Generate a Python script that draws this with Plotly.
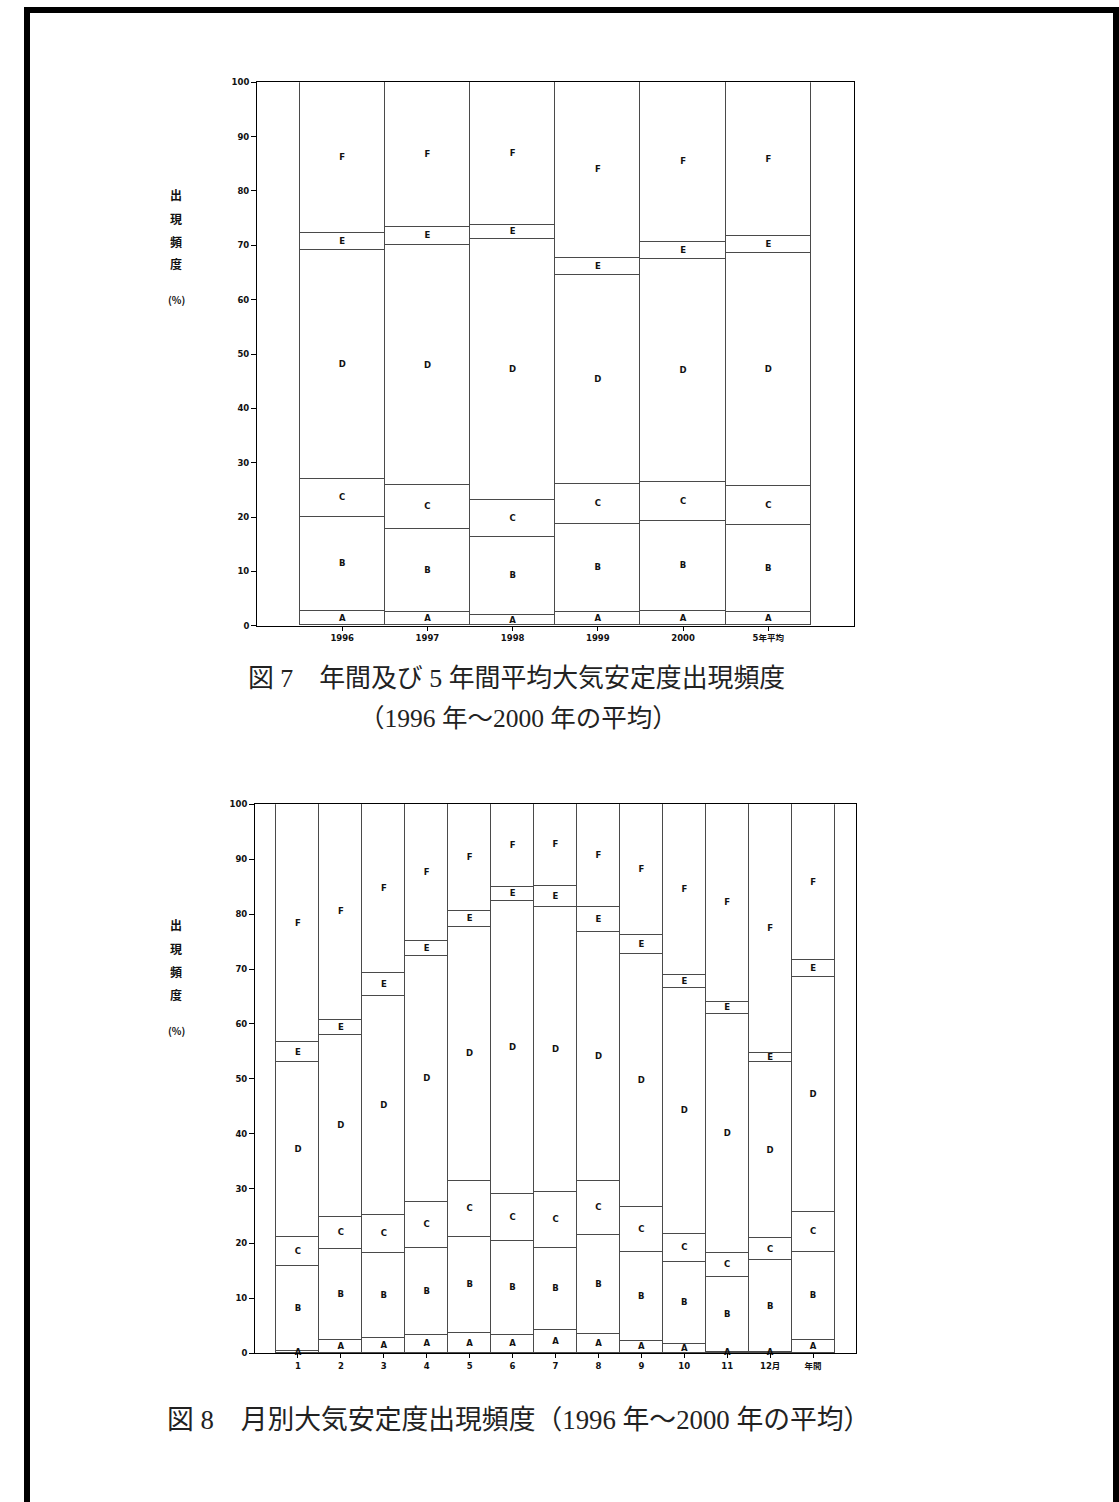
import plotly.graph_objects as go

W, H = 1119, 1502

classes = ["A", "B", "C", "D", "E", "F"]

# 図7: 年別および5年平均の安定度別出現頻度 (%)
years = ["1996", "1997", "1998", "1999", "2000", "5年平均"]
year_A = [2.6, 2.4, 1.9, 2.4, 2.6, 2.4]
year_B = [17.4, 15.4, 14.4, 16.3, 16.7, 16.1]
year_C = [7.0, 8.0, 6.8, 7.4, 7.0, 7.1]
year_D = [42.1, 44.2, 48.1, 38.4, 41.2, 42.9]
year_E = [3.2, 3.4, 2.5, 3.2, 3.1, 3.1]
year_F = [27.7, 26.6, 26.3, 32.3, 29.4, 28.4]

# 図8: 月別の安定度別出現頻度 (%)
months = ["1", "2", "3", "4", "5", "6", "7", "8", "9", "10", "11", "12月", "年間"]
month_A = [0.3, 2.3, 2.8, 3.3, 3.6, 3.3, 4.2, 3.5, 2.2, 1.6, 0.2, 0.1, 2.4]
month_B = [15.5, 16.7, 15.4, 15.9, 17.6, 17.1, 15.0, 18.0, 16.2, 15.0, 13.7, 16.8, 16.0]
month_C = [5.4, 5.7, 7.0, 8.3, 10.1, 8.6, 10.1, 9.8, 8.2, 5.1, 4.3, 4.0, 7.3]
month_D = [31.8, 33.3, 39.9, 44.9, 46.3, 53.4, 51.9, 45.3, 46.1, 44.8, 43.5, 32.1, 42.8]
month_E = [3.6, 2.7, 4.1, 2.7, 3.0, 2.5, 3.9, 4.6, 3.4, 2.4, 2.3, 1.6, 3.0]
month_F = [43.4, 39.3, 30.8, 24.9, 19.4, 15.1, 14.9, 18.8, 23.9, 31.1, 36.0, 45.4, 28.5]

LINE = "#4a4a4a"
TICK_FONT = dict(family="DejaVu Sans, Noto Sans CJK JP", size=8.5,
                 color="#111111", weight="bold")
LABEL_FONT = dict(family="DejaVu Sans, Arial", size=8.5, color="#111111",
                  weight="bold")
CJK = "Noto Sans CJK JP"
CAPTION = "Liberation Serif, Noto Sans CJK JP"


def px_x(p):
    return p / W


def px_y(p):
    return 1 - p / H


fig = go.Figure()


def add_stack(cats, series, xa, ya):
    base = [0.0] * len(cats)
    mids_x, mids_y, mids_t = [], [], []
    for name, vals in zip(classes, series):
        fig.add_trace(go.Bar(
            x=cats, y=vals, name=name, xaxis=xa, yaxis=ya,
            marker=dict(color="white", line=dict(color=LINE, width=1)),
            hoverinfo="skip", showlegend=False,
        ))
        for i, v in enumerate(vals):
            mids_x.append(cats[i])
            mids_y.append(base[i] + v / 2)
            mids_t.append(name)
            base[i] += v
    fig.add_trace(go.Scatter(
        x=mids_x, y=mids_y, text=mids_t, mode="text", xaxis=xa, yaxis=ya,
        textfont=LABEL_FONT, hoverinfo="skip", showlegend=False, cliponaxis=False,
    ))


add_stack(years, [year_A, year_B, year_C, year_D, year_E, year_F], "x", "y")
add_stack(months, [month_A, month_B, month_C, month_D, month_E, month_F], "x2", "y2")

axis_common = dict(
    showline=True, linecolor="black", linewidth=1, mirror=True,
    ticks="outside", ticklen=4, tickcolor="black", tickwidth=1,
    showgrid=False, zeroline=False, tickfont=TICK_FONT, fixedrange=True,
    automargin=False,
)

fig.update_layout(
    width=W, height=H,
    margin=dict(l=0, r=0, t=0, b=0, autoexpand=False),
    paper_bgcolor="white", plot_bgcolor="white",
    barmode="stack", bargap=0, showlegend=False,
    xaxis=dict(axis_common, type="category", domain=[px_x(257), px_x(853.5)],
               range=[-1, len(years)], anchor="y"),
    yaxis=dict(axis_common, domain=[px_y(625.7), px_y(82.3)], range=[0, 100],
               dtick=10, anchor="x", ticklen=5),
    xaxis2=dict(axis_common, type="category", domain=[px_x(255), px_x(856)],
                range=[-1, len(months)], anchor="y2"),
    yaxis2=dict(axis_common, domain=[px_y(1353.3), px_y(804.3)], range=[0, 100],
                dtick=10, anchor="x2", ticklen=5),
)

# 縦書きの軸タイトル
annotations = []
for top in (0, 730):
    for ch, yy in zip(["出", "現", "頻", "度", "(%)"], [194, 218, 241, 264, 300]):
        annotations.append(dict(
            x=px_x(176), y=px_y(yy + top), xref="paper", yref="paper",
            text=ch, showarrow=False, xanchor="center", yanchor="middle",
            font=dict(family=CJK, size=12 if ch != "(%)" else 10,
                      color="#111111", weight="bold"),
        ))

# 図の表題
captions = [
    ("図 7　年間及び 5 年間平均大気安定度出現頻度", 246, 678, 25.9),
    ("（1996 年～2000 年の平均）", 357, 718, 25.5),
    ("図 8　月別大気安定度出現頻度（1996 年～2000 年の平均）", 165, 1420, 26.8),
]
for txt, xx, yy, fs in captions:
    annotations.append(dict(
        x=px_x(xx), y=px_y(yy), xref="paper", yref="paper", text=txt,
        showarrow=False, xanchor="left", yanchor="middle",
        font=dict(family=CAPTION, size=fs, color="#222222"),
    ))
fig.update_layout(annotations=annotations)

# ページの枠線
fig.add_shape(type="rect", xref="paper", yref="paper",
              x0=px_x(27), x1=px_x(1116), y0=-0.02, y1=px_y(10),
              line=dict(color="black", width=6), fillcolor="rgba(0,0,0,0)")

fig.write_html("out.html")
